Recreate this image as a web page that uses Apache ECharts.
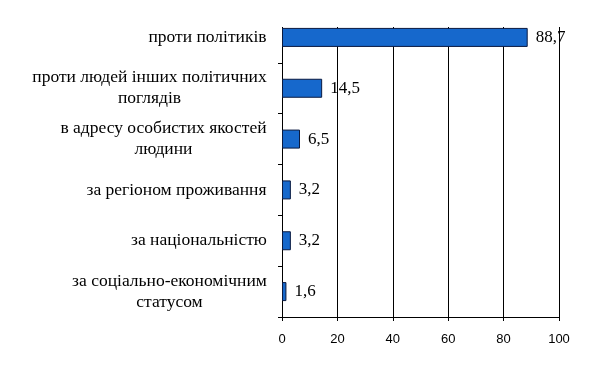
<!DOCTYPE html>
<html><head><meta charset="utf-8">
<script src="https://cdn.jsdelivr.net/npm/echarts@6/dist/echarts.min.js"></script>
<style>html,body{margin:0;padding:0;background:#fff}#c{width:600px;height:366px}</style>
</head><body><div id="c"></div>
<script>
var categories = [
  'проти політиків',
  'проти людей інших політичних\nпоглядів',
  'в адресу особистих якостей\nлюдини',
  'за регіоном проживання',
  'за національністю',
  'за соціально-економічним\nстатусом'
];
var values = [88.7, 14.5, 6.5, 3.2, 3.2, 1.6];
var xTicks = [0, 20, 40, 60, 80, 100];

var serif = '"Liberation Serif", "DejaVu Serif", serif';
var catSize = 17.5;
var ctx = document.createElement('canvas').getContext('2d');
ctx.font = catSize + 'px ' + serif;
var rich = {};
categories.forEach(function (c, i) {
  var w = 0;
  c.split('\n').forEach(function (l) { w = Math.max(w, ctx.measureText(l).width); });
  rich['r' + i] = { width: Math.ceil(w), align: 'center', fontFamily: serif, fontSize: catSize, color: '#000', lineHeight: 21 };
});

var chart = echarts.init(document.getElementById('c'));
chart.setOption({
  animation: false,
  grid: { left: 282, right: 41, top: 12, bottom: 49, containLabel: false },
  graphic: [{
    type: 'rect', z: 1, silent: true,
    shape: { x: 276, y: 0, width: 324, height: 27 },
    style: { fill: '#fff' }
  }],
  xAxis: {
    type: 'value', min: xTicks[0], max: xTicks[xTicks.length - 1], interval: 20,
    axisLine: { show: true, lineStyle: { color: '#000', width: 1 } },
    axisTick: { show: true, length: 4, lineStyle: { color: '#000' } },
    splitLine: { show: true, lineStyle: { color: '#000', width: 1 } },
    axisLabel: { color: '#000', fontSize: 13, fontFamily: '"Liberation Sans", Arial, sans-serif', margin: 16 }
  },
  yAxis: {
    type: 'category', data: categories, inverse: true,
    axisLine: { show: true, lineStyle: { color: '#000', width: 1 } },
    axisTick: { show: true, length: 4, lineStyle: { color: '#000' } },
    axisLabel: {
      margin: 15, align: 'right',
      formatter: function (v, i) {
        return v.split('\n').map(function (l) { return '{r' + i + '|' + l + '}'; }).join('\n');
      },
      rich: rich
    }
  },
  series: [{
    type: 'bar', data: values, barWidth: 19, z: 2,
    itemStyle: { color: '#1668cc', borderColor: '#0a1a40', borderWidth: 1 },
    label: {
      show: true, position: 'right', distance: 8, color: '#000',
      fontFamily: serif, fontSize: 17,
      formatter: function (p) { return String(p.value).replace('.', ','); }
    }
  }]
});
</script></body></html>
